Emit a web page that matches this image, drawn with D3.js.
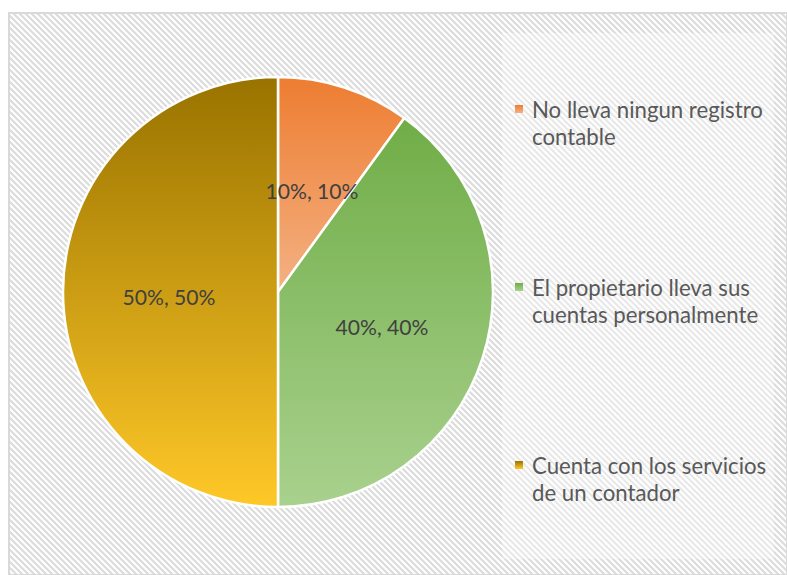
<!DOCTYPE html>
<html><head><meta charset="utf-8">
<script src="https://cdn.jsdelivr.net/npm/d3@7"></script>
<style>body{margin:0;background:#fff}svg{display:block}</style>
</head><body>
<script>
const categories = ["No lleva ningun registro contable", "El propietario lleva sus cuentas personalmente", "Cuenta con los servicios de un contador"];
const legendLines = [["No lleva ningun registro", "contable"], ["El propietario lleva sus", "cuentas personalmente"], ["Cuenta con los servicios", "de un contador"]];
const values = [10, 40, 50];
const labels = ["10%, 10%", "40%, 40%", "50%, 50%"];
const colorsTop = ["#ED7D31", "#70AD47", "#997300"];
const colorsBottom = ["#F4B183", "#A9D18E", "#FFC828"];

const W = 787, H = 575;
const FONT = "Lato, 'Open Sans', sans-serif";
const svg = d3.select("body").append("svg").attr("width", W).attr("height", H);
const defs = svg.append("defs");

const pat = defs.append("pattern").attr("id", "hatch").attr("patternUnits", "userSpaceOnUse")
  .attr("width", 6).attr("height", 6);
pat.append("rect").attr("width", 6).attr("height", 6).attr("fill", "#ffffff");
pat.append("path").attr("d", "M-1,-1 L7,7 M-7,-1 L1,7 M5,-1 L13,7").attr("stroke", "#dcdcdc").attr("stroke-width", 2.2);

svg.append("rect").attr("x", 9).attr("y", 13).attr("width", W - 9).attr("height", H - 13)
  .attr("fill", "url(#hatch)").attr("stroke", "#d9d9d9").attr("stroke-width", 2);

// legend panel (lighter)
svg.append("rect").attr("x", 502).attr("y", 33).attr("width", 272).attr("height", 526)
  .attr("fill", "#ffffff").attr("opacity", 0.35);

const cx = 278, cy = 292, r = 215;
const pie = d3.pie().sort(null).value(d => d)(values);
const arc = d3.arc().innerRadius(0).outerRadius(r);
const g = svg.append("g").attr("transform", `translate(${cx},${cy})`);

pie.forEach((p, i) => {
  const grad = defs.append("linearGradient").attr("id", "g" + i)
    .attr("x1", 0).attr("y1", 0).attr("x2", 0).attr("y2", 1);
  grad.append("stop").attr("offset", "0%").attr("stop-color", colorsTop[i]);
  grad.append("stop").attr("offset", "100%").attr("stop-color", colorsBottom[i]);
});

g.selectAll("path.slice").data(pie).enter().append("path")
  .attr("d", arc).attr("fill", (d, i) => `url(#g${i})`)
  .attr("stroke", "#ffffff").attr("stroke-width", 2.5).attr("stroke-linejoin", "round");

function fitSize(sel, target) {
  sel.attr("font-size", 20);
  const w = sel.node().getComputedTextLength();
  sel.attr("font-size", 20 * target / w);
  return 20 * target / w;
}

const labelPos = [[34, -102], [104, 34], [-109, 4]];
const lbls = g.selectAll("text.lbl").data(pie).enter().append("text")
  .attr("x", (d, i) => labelPos[i][0]).attr("y", (d, i) => labelPos[i][1])
  .attr("text-anchor", "middle").attr("dominant-baseline", "central")
  .attr("font-family", FONT)
  .attr("fill", "#404040").text((d, i) => labels[i]);
const ls = fitSize(d3.select(lbls.nodes()[0]), 93);
lbls.attr("font-size", ls);

const legY = [109, 287, 465];
let legSize = null;
legendLines.forEach((lines, i) => {
  const gg = svg.append("g");
  gg.append("rect").attr("x", 515).attr("y", legY[i] - 4).attr("width", 8).attr("height", 8)
    .attr("fill", `url(#g${i})`);
  lines.forEach((t, j) => {
    const tx = gg.append("text").attr("x", 532).attr("y", legY[i] + j * 27.5)
      .attr("dominant-baseline", "central")
      .attr("font-family", FONT)
      .attr("fill", "#595959").text(t);
    if (legSize === null) legSize = fitSize(tx, 231);
    tx.attr("font-size", legSize);
  });
});
</script>
</body></html>
